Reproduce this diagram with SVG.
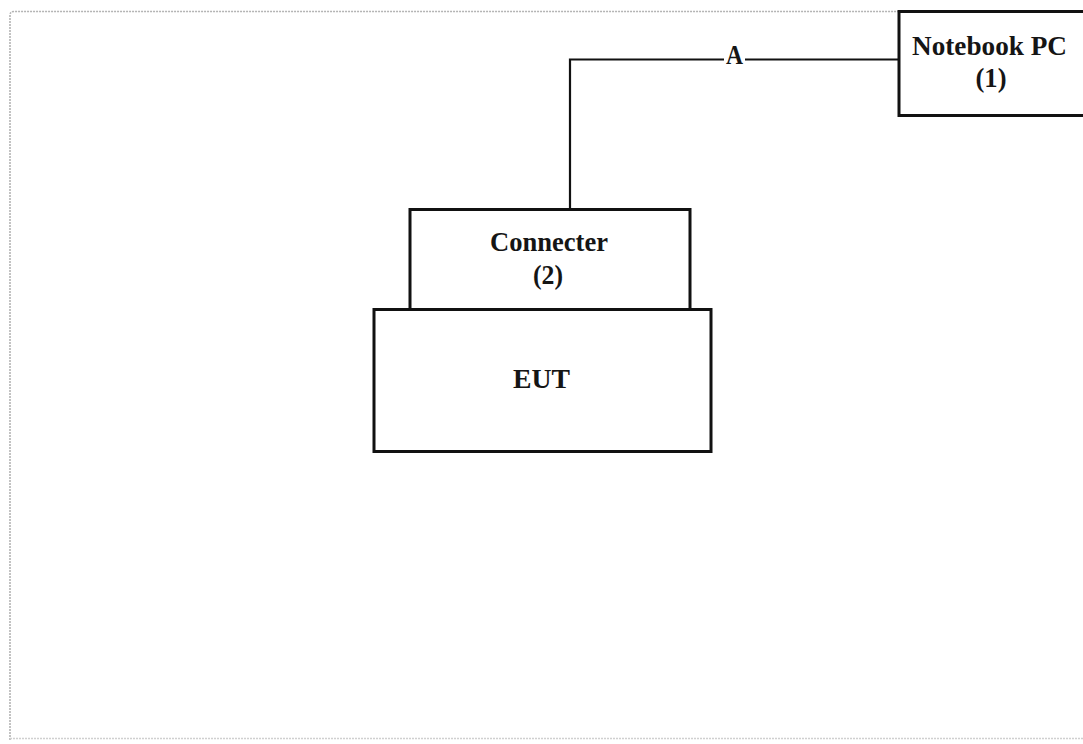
<svg xmlns="http://www.w3.org/2000/svg" width="1083" height="744" viewBox="0 0 1083 744">
<style>
.box{fill:#fff;stroke:#111;stroke-width:3}
.wire{fill:none;stroke:#111;stroke-width:2.2}
.lbl{font-family:"Liberation Serif","Times New Roman",serif;font-weight:bold;font-size:27px;fill:#151515;text-anchor:middle}
</style>
<rect width="1083" height="744" fill="#fff"/>
<path d="M10 740 V15 Q10 11.5 14 11.5 H1100" fill="none" stroke="#b4b4b4" stroke-width="1.6" stroke-dasharray="2,1"/>
<line x1="10" y1="738.5" x2="1083" y2="738.5" stroke="#d0d0d0" stroke-width="1.4" stroke-dasharray="2,1"/>
<g id="connectors">
<path class="wire" d="M898 59.5 H570 V210"/>
<rect x="724" y="50" width="21" height="18" fill="#fff"/>
<text class="lbl" x="734.5" y="64" textLength="17" lengthAdjust="spacingAndGlyphs">A</text>
</g>
<g id="notebook">
<rect class="box" x="899" y="11.5" width="200" height="104"/>
<text class="lbl" x="989.5" y="55" textLength="155" lengthAdjust="spacingAndGlyphs">Notebook PC</text>
<text class="lbl" x="991" y="87" textLength="31" lengthAdjust="spacingAndGlyphs">(1)</text>
</g>
<g id="eut">
<rect class="box" x="374" y="309.5" width="337" height="142"/>
<text class="lbl" x="541.5" y="388" textLength="57" lengthAdjust="spacingAndGlyphs">EUT</text>
</g>
<g id="connecter">
<rect class="box" x="410" y="209.5" width="280" height="100"/>
<text class="lbl" x="549" y="251" textLength="118" lengthAdjust="spacingAndGlyphs">Connecter</text>
<text class="lbl" x="548" y="284" textLength="30" lengthAdjust="spacingAndGlyphs">(2)</text>
</g>
</svg>
